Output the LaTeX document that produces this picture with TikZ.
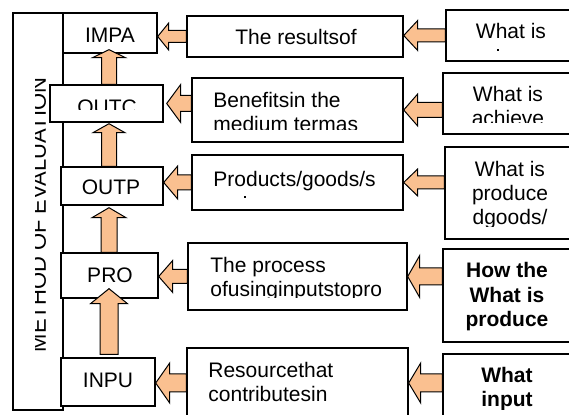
\documentclass[tikz,border=0pt]{standalone}
\usepackage{fontspec}
\setmainfont{Liberation Sans}
\usetikzlibrary{calc,fit}

\definecolor{arrowfill}{HTML}{FAC090}

\begin{document}
\begin{tikzpicture}[x=0.5pt,y=-0.5pt]
  % Define styles
  \tikzset{
    box/.style={draw, line width=0.7pt, inner sep=0pt},
    txt/.style={inner sep=0pt, font=\fontsize{10.5}{12}\selectfont},
    boldtxt/.style={inner sep=0pt, font=\fontsize{10.5}{12.3}\selectfont\bfseries},
    uparr/.style n args={3}{fill=arrowfill, draw, line width=0.5pt,
      to path={let \p1=(\tikztostart), \p2=(\tikztotarget) in
        (\x1-#1,\y1) -- (\x1-#1,\y2-#3) -- (\x1-#2,\y2-#3) -- (\x1,\y2)
        -- (\x1+#2,\y2-#3) -- (\x1+#1,\y2-#3) -- (\x1+#1,\y1) -- cycle}},
    leftarr/.style n args={3}{fill=arrowfill, draw, line width=0.5pt,
      to path={let \p1=(\tikztostart), \p2=(\tikztotarget) in
        (\x1,\y1+#1) -- (\x2+#3,\y1+#1) -- (\x2+#3,\y1+#2) -- (\x2,\y1)
        -- (\x2+#3,\y1-#2) -- (\x2+#3,\y1-#1) -- (\x1,\y1-#1) -- cycle}}
  }
  \clip (0,0) rectangle (569,415);

  % Method column
  \node[box, fit={(13,13) (63,410)}] (method) {};
  \begin{scope}
    \clip (35,13) rectangle (63,410);
    \node[txt, font=\fontsize{11}{13}\selectfont, rotate=90, anchor=base] (methodtxt) at (46,215) {METHOD OF EVALUATION};
  \end{scope}

  % Result chain
  \node[box, fill=white, fit={(63,13) (157,53)}] (impa) {};
  \node[box, fill=white, fit={(50,85) (163,122)}] (outc) {};
  \node[box, fill=white, fit={(61,167) (163,205)}] (outp) {};
  \node[box, fill=white, fit={(61,253) (158,298)}] (pro) {};
  \node[box, fill=white, fit={(61,358) (155,406)}] (inpu) {};
  \node[txt, anchor=base] (impatxt) at (110,43) {IMPA};
  \begin{scope}
    \clip (50,85) rectangle (163,110);
    \node[txt, anchor=base] (outctxt) at (107,115) {OUTC};
  \end{scope}
  \node[txt, anchor=base] (outptxt) at (111,195) {OUTP};
  \node[txt, anchor=base] (protxt) at (110,283) {PRO};
  \node[txt, anchor=base] (inputxt) at (108,388) {INPU};

  % Definitions (base = last line)
  \node[box, fit={(187,16) (403,57)}] (m1) {};
  \node[box, fit={(192,78) (403,142)}] (m2) {};
  \node[box, fit={(192,155) (403,210)}] (m3) {};
  \node[box, fit={(188,243) (407,310)}] (m4) {};
  \node[box, fit={(187,348) (408,418)}] (m5) {};
  \node[txt, anchor=base] (m1txt) at (296,45) {The resultsof};
  \begin{scope}
    \clip (192,78) rectangle (403,130);
    \node[txt, align=left, anchor=base west] (m2txt) at (213,132) {Benefitsin the\\medium termas};
  \end{scope}
  \node[txt, anchor=base west] (m3txt) at (213,187) {Products/goods/s};
  \fill (244,196) rectangle (246,198);
  \begin{scope}
    \clip (188,243) rectangle (385,298);
    \node[txt, align=left, anchor=base west] (m4txt) at (210,297) {The process\\ofusinginputstopro};
  \end{scope}
  \node[txt, align=left, anchor=base west] (m5txt) at (208,402) {Resourcethat\\contributesin};

  % Questions
  \node[box, fit={(446,10) (580,61)}] (r1) {};
  \node[box, fit={(443,73) (580,134)}] (r2) {};
  \node[box, fit={(445,147) (580,239)}] (r3) {};
  \node[box, fit={(443,249) (580,342)}] (r4) {};
  \node[box, fit={(443,354) (580,425)}] (r5) {};
  \node[txt, anchor=base] (r1txt) at (511,39) {What is};
  \fill (497,49) rectangle (499,51);
  \begin{scope}
    \clip (443,73) rectangle (580,123);
    \node[txt, align=center, anchor=base] (r2txt) at (508,126) {What is\\achieve};
  \end{scope}
  \begin{scope}
    \clip (445,147) rectangle (580,227);
    \node[txt, align=center, anchor=base] (r3txt) at (510,225) {What is\\produce\\dgoods/};
  \end{scope}
  \node[boldtxt, align=center, anchor=base] (r4txt) at (507,327) {How the\\What is\\produce};
  \begin{scope}
    \clip (443,354) rectangle (580,410);
    \node[boldtxt, align=center, anchor=base] (r5txt) at (507,407) {What\\input};
  \end{scope}

  % Up arrows
  \coordinate (spine) at (109,0);
  \draw[uparr={3.75pt}{8.25pt}{4pt}] (outc.north -| spine) to ($(impa.south -| spine)+(0,2pt)$);
  \draw[uparr={3.75pt}{8pt}{4.5pt}] (outp.north -| spine) to ($(outc.south -| spine)+(0,-0.5pt)$);
  \draw[uparr={4pt}{8.5pt}{5pt}] (pro.north -| spine) to ($(outp.south -| spine)+(0,-1pt)$);
  \draw[uparr={4.5pt}{9.25pt}{7.5pt}] ($(inpu.north -| spine)+(0,1.5pt)$) to ($(pro.south -| spine)+(0,5pt)$);

  % Left arrows
  \draw[leftarr={3pt}{6.75pt}{5.5pt}] (m1.west) to (impa.east |- m1.west);
  \draw[leftarr={3.25pt}{7.5pt}{7pt}] (r1.west) to (m1.east |- r1.west);
  \draw[leftarr={4pt}{9.5pt}{7pt}] (m2.west |- outc.east) to ($(outc.east)+(1.5pt,0)$);
  \draw[leftarr={3.75pt}{8pt}{7pt}] (r2.west |- m2.east) to (m2.east);
  \draw[leftarr={3.75pt}{8.25pt}{7pt}] (m3.west) to (outp.east |- m3.west);
  \draw[leftarr={3.25pt}{6.75pt}{7pt}] (r3.west |- m3.east) to (m3.east);
  \draw[leftarr={3.5pt}{8pt}{7pt}] (m4.west) to (pro.east |- m4.west);
  \draw[leftarr={4.25pt}{10.5pt}{6pt}] (r4.west |- m4.east) to (m4.east);
  \draw[leftarr={4.5pt}{10pt}{7pt}] (m5.west) to (inpu.east |- m5.west);
  \draw[leftarr={4.5pt}{10pt}{6pt}] (r5.west |- m5.east) to (m5.east);
\end{tikzpicture}
\end{document}
